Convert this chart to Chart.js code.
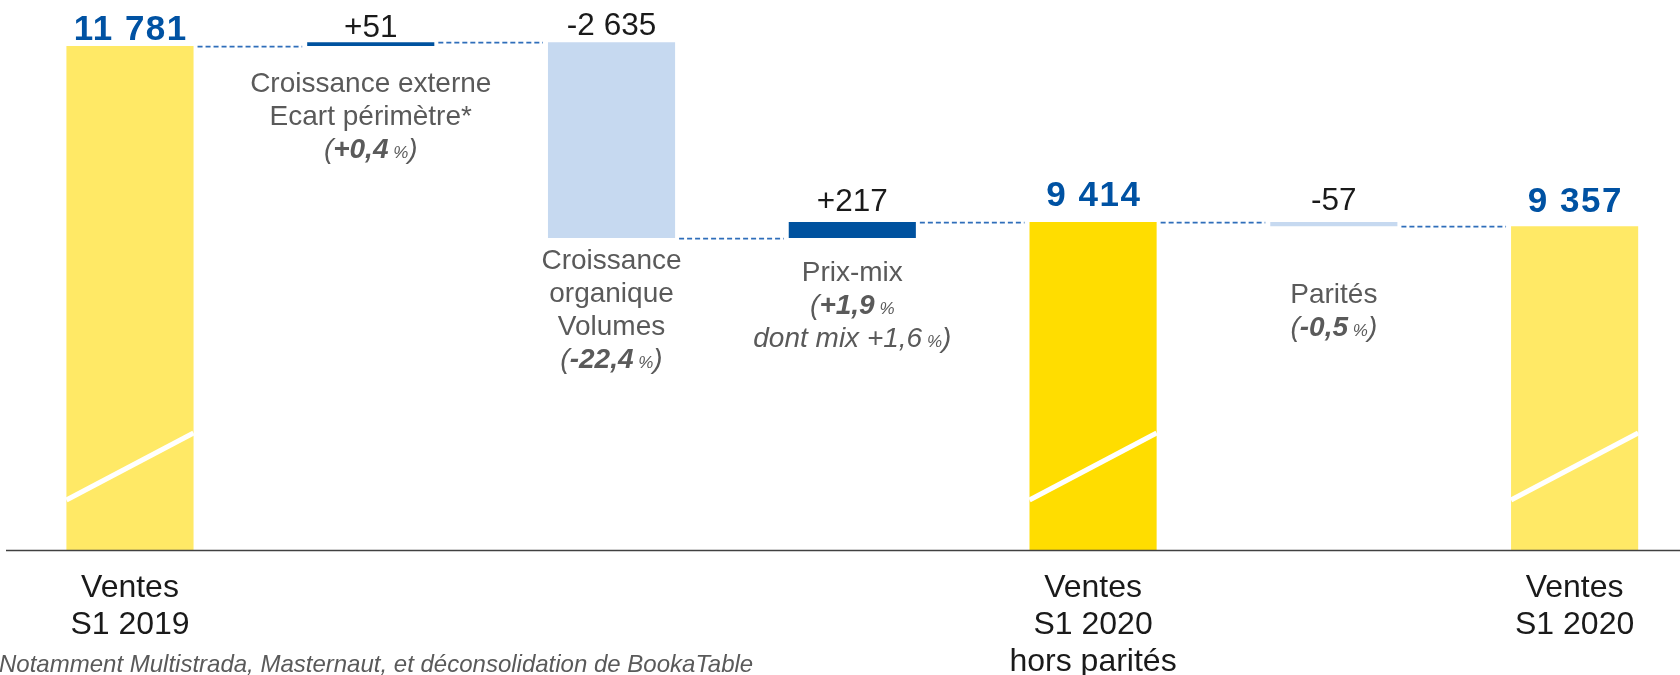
<!DOCTYPE html>
<html>
<head>
<meta charset="utf-8">
<script src="https://cdn.jsdelivr.net/npm/chart.js@4.4.1/dist/chart.umd.min.js"></script>
<style>
html,body{margin:0;padding:0;background:#fff;overflow:hidden;width:1680px;height:675px;}
#wrap{position:absolute;left:0;top:0;width:1700px;height:675px;}
</style>
</head>
<body>
<div id="wrap"><canvas id="c" width="1700" height="675"></canvas></div>
<script>
// ---------- data ----------
const categories = [["Ventes","S1 2019"], [], [], [], ["Ventes","S1 2020","hors parités"], [], ["Ventes","S1 2020"]];
const barKinds = ["total","delta","delta","delta","total","delta","total"];
const barValues = [11781, 51, -2635, 217, 9414, -57, 9357];
const valueLabels = ["11 781","+51","-2 635","+217","9 414","-57","9 357"];
const descriptions = [
  [],
  ["Croissance externe","Ecart périmètre*","(*+0,4* %)"],
  ["Croissance","organique","Volumes","(*-22,4* %)"],
  ["Prix-mix","(*+1,9* %","dont mix +1,6 %)"],
  [],
  ["Parités","(*-0,5* %)"],
  []
];
const footnote = "*Notamment Multistrada, Masternaut, et déconsolidation de BookaTable";
const axisFloor = 5000;     // broken axis: visible floor
const axisCeiling = 12400;

// ---------- derived ----------
let running = 0;
const levels = [];
const floating = barValues.map((v,i)=>{
  if(barKinds[i]==="total"){ running = v; levels.push(running); return [axisFloor, v]; }
  const start = running; running += v; levels.push(running);
  return [Math.min(start,running), Math.max(start,running)];
});

// ---------- styles ----------
const FONT = '"Liberation Sans", Arial, sans-serif';
const TOTAL_LIGHT = "#FFE966", TOTAL_STRONG = "#FFDD00", POS = "#00529F", NEG = "#C6D9F0";
const colors = barValues.map((v,i)=> barKinds[i]==="total" ? (i===4 ? TOTAL_STRONG : TOTAL_LIGHT) : (v>=0 ? POS : NEG));
const labelGap = [6,5,7,11,16,12,14];
const descGap = [0,46,31,43,0,77,0];
const descLine = 33;

function drawRich(ctx, line, cx, by){
  const italicLine = /[()%]/.test(line);
  const parts = line.split(/(\*[^*]+\*|\s*%)/).filter(s=>s.length);
  const segs = parts.map(p=>{
    if(p.startsWith("*")) return {t:p.slice(1,-1), f:"italic bold 28px "+FONT};
    if(/^\s*%$/.test(p)) return {t:p.replace(/\s+/," "), f:"italic 17px "+FONT};
    return {t:p, f:(italicLine?"italic ":"")+"28px "+FONT};
  });
  let w = 0;
  segs.forEach(s=>{ctx.font=s.f; s.w=ctx.measureText(s.t).width; w+=s.w;});
  let x = cx - w/2;
  ctx.textAlign = "left";
  segs.forEach(s=>{ctx.font=s.f; ctx.fillText(s.t,x,by); x+=s.w;});
}

const decor = {
  id:"decor",
  afterDatasetsDraw(chart){
    const {ctx, scales:{y}} = chart;
    const meta = chart.getDatasetMeta(0);
    const base = y.getPixelForValue(axisFloor);
    ctx.save();
    // axis-break white diagonals
    meta.data.forEach((bar,i)=>{
      if(barKinds[i]!=="total") return;
      const l = bar.x - bar.width/2, r = bar.x + bar.width/2;
      ctx.strokeStyle="#ffffff"; ctx.lineWidth=5;
      ctx.beginPath(); ctx.moveTo(l, base-50); ctx.lineTo(r, base-117); ctx.stroke();
    });
    // connectors
    ctx.strokeStyle="#2F6EBA"; ctx.lineWidth=1.75; ctx.setLineDash([5,3]);
    for(let i=0;i<meta.data.length-1;i++){
      const a=meta.data[i], b=meta.data[i+1];
      const yy = Math.round(y.getPixelForValue(levels[i]))+0.5;
      ctx.beginPath(); ctx.moveTo(a.x+a.width/2+4, yy); ctx.lineTo(b.x-b.width/2-5, yy); ctx.stroke();
    }
    ctx.setLineDash([]);
    // x axis line
    ctx.strokeStyle="#404040"; ctx.lineWidth=1.5;
    ctx.beginPath(); ctx.moveTo(6, base+0.5); ctx.lineTo(1700, base+0.5); ctx.stroke();

    ctx.textBaseline="alphabetic";
    // value labels
    meta.data.forEach((bar,i)=>{
      const top = Math.min(bar.y, bar.base);
      const by = top - labelGap[i];
      if(barKinds[i]==="total"){
        ctx.font = "bold 35px "+FONT; ctx.fillStyle="#0052A3";
        ctx.letterSpacing = "1.5px";
        const w = ctx.measureText(valueLabels[i]).width - 1.5;
        ctx.textAlign="left"; ctx.fillText(valueLabels[i], bar.x - w/2, by);
        ctx.letterSpacing = "0px";
      } else {
        ctx.font = "31.5px "+FONT; ctx.fillStyle="#1a1a1a";
        ctx.textAlign="center"; ctx.fillText(valueLabels[i], bar.x, by);
      }
    });
    // descriptions
    ctx.fillStyle="#5a5a5a";
    meta.data.forEach((bar,i)=>{
      const bottom = Math.max(bar.y, bar.base);
      descriptions[i].forEach((line,k)=>{
        drawRich(ctx, line, bar.x, bottom + descGap[i] + k*descLine);
      });
    });
    // category labels
    ctx.fillStyle="#1a1a1a"; ctx.font="32px "+FONT; ctx.textAlign="center";
    meta.data.forEach((bar,i)=>{
      categories[i].forEach((t,k)=> ctx.fillText(t, bar.x, base + 47 + k*37));
    });
    // footnote
    ctx.font="italic 24px "+FONT; ctx.fillStyle="#5a5a5a"; ctx.textAlign="left";
    const sw = ctx.measureText("*").width;
    ctx.fillText(footnote, -sw-1, 672);
    ctx.restore();
  }
};

new Chart(document.getElementById("c"), {
  type:"bar",
  data:{
    labels: categories,
    datasets:[{data: floating, backgroundColor: colors, borderWidth:0, borderSkipped:false,
      barPercentage:0.528, categoryPercentage:1.0}]
  },
  options:{
    responsive:false, animation:false, events:[],
    layout:{padding:{left:9.6, right:5, top:0, bottom:125}},
    plugins:{legend:{display:false}, tooltip:{enabled:false}},
    scales:{
      x:{display:false},
      y:{display:false, min:axisFloor, max:axisCeiling}
    }
  },
  plugins:[decor]
});
</script>
</body>
</html>
